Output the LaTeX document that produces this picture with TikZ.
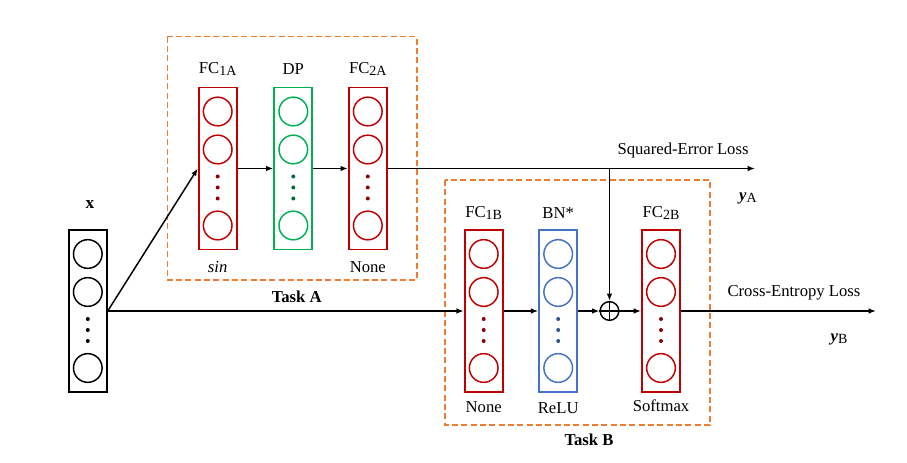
\documentclass[tikz,border=0pt]{standalone}
\usepackage{fontspec}
\setmainfont{Liberation Serif}
\usetikzlibrary{arrows.meta}
\definecolor{lred}{RGB}{192,0,0}
\definecolor{dred}{RGB}{140,0,0}
\definecolor{lgreen}{RGB}{0,176,80}
\definecolor{dgreen}{RGB}{0,110,50}
\definecolor{lblue}{RGB}{68,114,196}
\definecolor{dblue}{RGB}{47,85,151}
\definecolor{lorange}{RGB}{237,125,49}
\newcommand{\sbs}[1]{\raisebox{-0.35ex}{\fontsize{10.5}{12}\selectfont #1}}
\tikzset{
  layerbox/.style={rectangle, line width=1.4pt, minimum width=28.5pt, minimum height=121.5pt, inner sep=0pt},
  neuron/.style={circle, line width=1.1pt, minimum size=21.5pt, inner sep=0pt},
  ndot/.style={circle, inner sep=0pt, minimum size=3pt},
  conn/.style={line width=1.1pt, -{Latex[length=5.5pt,width=4.2pt]}},
  taskbox/.style={draw=lorange, line width=1.2pt, dash pattern=on 4.5pt off 2.5pt},
  lbl/.style={inner sep=0pt, font=\fontsize{12.5}{15}\selectfont},
}
\newcommand{\nnlayer}[5]{%
  \node[layerbox, draw=#4] (#1) at (#2,#3) {};
  \node[neuron, draw=#4] (#1-1) at (#2,#3-57) {};
  \node[neuron, draw=#4] (#1-2) at (#2,#3-19) {};
  \node[neuron, draw=#4] (#1-3) at (#2,#3+57) {};
  \node[ndot, fill=#5] (#1-d1) at (#2,#3+8) {};
  \node[ndot, fill=#5] (#1-d2) at (#2,#3+19) {};
  \node[ndot, fill=#5] (#1-d3) at (#2,#3+30) {};
}
\begin{document}
\begin{tikzpicture}[x=0.75pt, y=-0.75pt]
\useasboundingbox (0,0) rectangle (907,463);
% task boxes
\draw[taskbox] (167.3,36.7) rectangle (416.7,280);
\draw[taskbox] (445,180) rectangle (710,425);
% layers
\nnlayer{in}{87.8}{311}{black}{black}
\nnlayer{fc1a}{217.7}{168.5}{lred}{dred}
\nnlayer{dp}{293.3}{168.5}{lgreen}{dgreen}
\nnlayer{fc2a}{367.8}{168.5}{lred}{dred}
\nnlayer{fc1b}{483.7}{311}{lred}{dred}
\nnlayer{bn}{558.2}{311}{lblue}{dblue}
\nnlayer{fc2b}{661}{311}{lred}{dred}
\node[circle, draw, line width=1.1pt, minimum size=14pt, inner sep=0pt] (plus) at (609.5,311) {};
\draw[line width=1.1pt] (plus.north) -- (plus.south) (plus.west) -- (plus.east);
% labels
\node[lbl, font=\fontsize{13}{15}\selectfont\bfseries] (xl) at (90,205) {x};
\node[lbl] (l1a) at (217.7,69) {FC\sbs{1A}};
\node[lbl] (ldp) at (293.3,69) {DP};
\node[lbl] (l2a) at (367.8,69) {FC\sbs{2A}};
\node[lbl] (sinl) at (217.7,267) {\textit{sin}};
\node[lbl] (nonea) at (367.8,267) {None};
\node[lbl, font=\fontsize{12.5}{15}\selectfont\bfseries] (taska) at (296.7,297) {Task A};
\node[lbl] (l1b) at (483.7,213) {FC\sbs{1B}};
\node[lbl] (lbn) at (558.2,213) {BN*};
\node[lbl] (l2b) at (661,213) {FC\sbs{2B}};
\node[lbl] (noneb) at (483.7,407) {None};
\node[lbl] (relu) at (558.2,408) {ReLU};
\node[lbl] (smax) at (661,406) {Softmax};
\node[lbl, font=\fontsize{12.5}{15}\selectfont\bfseries] (taskb) at (589,440) {Task B};
\node[lbl] (sqe) at (683,150) {Squared-Error Loss};
\node[lbl] (cel) at (794,293) {Cross-Entropy Loss};
\node[lbl] (ya) at (748,198) {\textbf{\textit{y}}\sbs{A}};
\node[lbl] (yb) at (839,339) {\textbf{\textit{y}}\sbs{B}};
% connectors
\coordinate (aend) at (755,168.5);
\coordinate (bend) at (876,311);
\coordinate (branch) at (609.5,168.5);
\draw[conn] (in.east) -- (fc1a.west);
\draw[conn] (in.east) -- (fc1b.west);
\draw[conn] (fc1a.east) -- (dp.west);
\draw[conn] (dp.east) -- (fc2a.west);
\draw[conn] (fc2a.east) -- (aend);
\draw[conn] (branch) -- (plus.north);
\draw[conn] (fc1b.east) -- (bn.west);
\draw[conn] (bn.east) -- (plus.west);
\draw[conn] (plus.east) -- (fc2b.west);
\draw[conn] (fc2b.east) -- (bend);
\end{tikzpicture}
\end{document}
